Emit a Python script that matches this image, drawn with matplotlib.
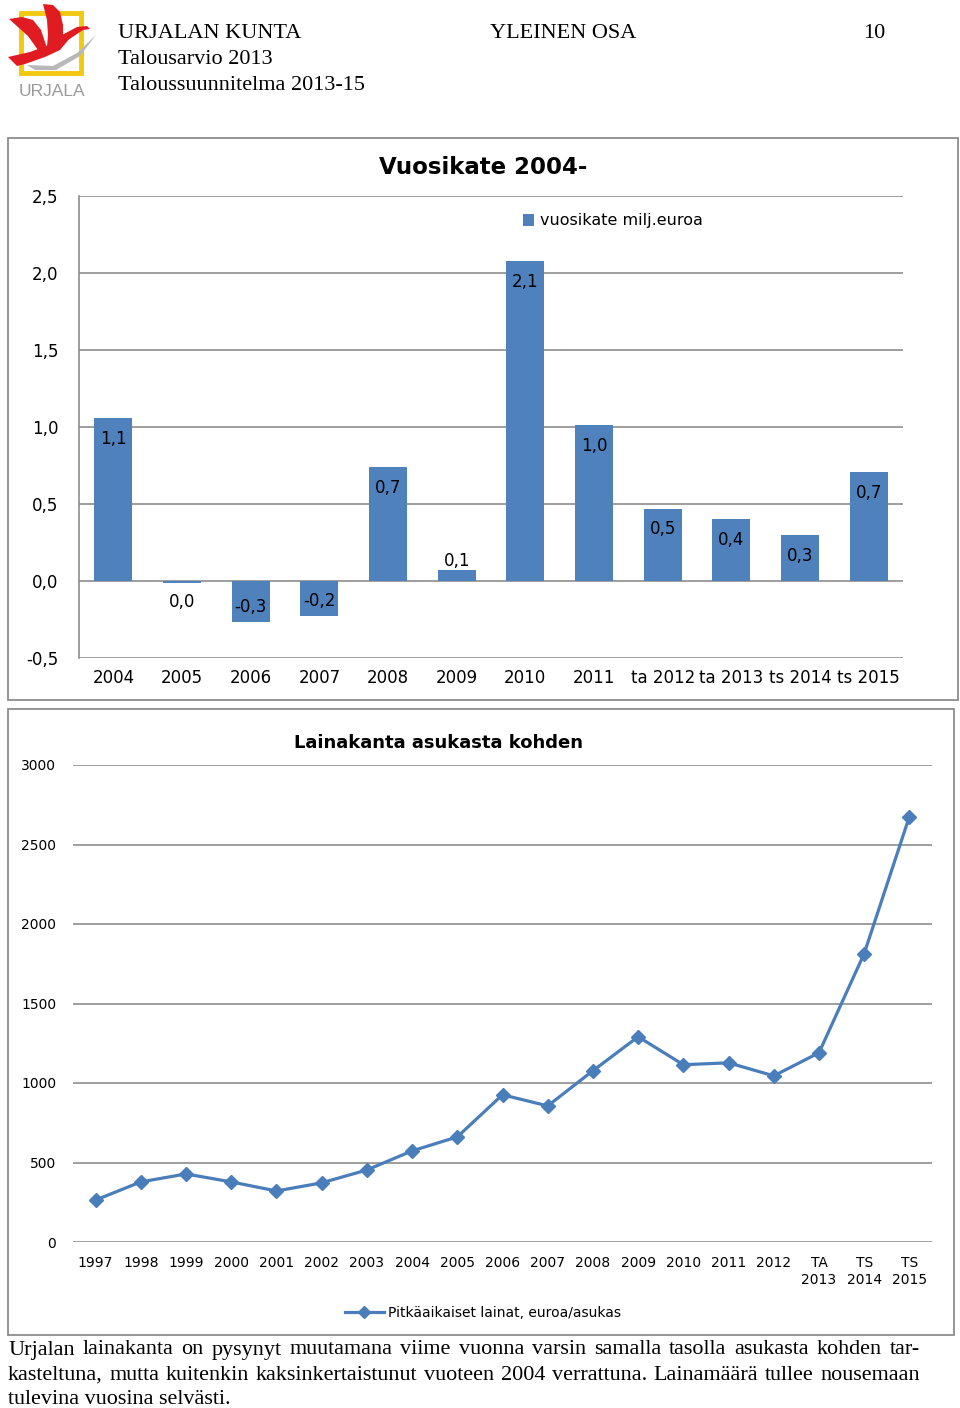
import matplotlib
matplotlib.use("Agg")
import matplotlib.pyplot as plt
from matplotlib.patches import Polygon, Rectangle
from matplotlib.lines import Line2D

# ---------------- data ----------------
bar_categories = ["2004", "2005", "2006", "2007", "2008", "2009", "2010", "2011",
                  "ta 2012", "ta 2013", "ts 2014", "ts 2015"]
bar_values = [1.06, -0.01, -0.265, -0.227, 0.74, 0.07, 2.08, 1.01, 0.47, 0.40, 0.30, 0.705]
bar_series_name = "vuosikate milj.euroa"
bar_title = "Vuosikate 2004-"
bar_yticks = [-0.5, 0.0, 0.5, 1.0, 1.5, 2.0, 2.5]

line_categories = ["1997", "1998", "1999", "2000", "2001", "2002", "2003", "2004", "2005",
                   "2006", "2007", "2008", "2009", "2010", "2011", "2012",
                   "TA\n2013", "TS\n2014", "TS\n2015"]
line_values = [264, 378, 428, 378, 321, 372, 453, 573, 661, 926, 856, 1077, 1291,
               1115, 1127, 1045, 1190, 1814, 2676]
line_series_name = "Pitkäaikaiset lainat, euroa/asukas"
line_title = "Lainakanta asukasta kohden"
line_yticks = [0, 500, 1000, 1500, 2000, 2500, 3000]

header_left = ["URJALAN KUNTA", "Talousarvio 2013", "Taloussuunnitelma 2013-15"]
header_mid = "YLEINEN OSA"
header_page = "10"
body_lines = [
    "Urjalan lainakanta on pysynyt muutamana viime vuonna varsin samalla tasolla asukasta kohden tar-",
    "kasteltuna, mutta kuitenkin kaksinkertaistunut vuoteen 2004 verrattuna. Lainamäärä tullee nousemaan",
    "tulevina vuosina selvästi.",
]

W, H = 960, 1408
BAR_C = "#4F81BD"
LINE_C = "#4A7EBB"
GRID_C = "#8E8E8E"
BOX_C = "#8C8C8C"
SERIF = "Liberation Serif"
SANS = "DejaVu Sans"
RED = "#E11B22"

fig = plt.figure(figsize=(W / 100, H / 100), dpi=100)
fig.patch.set_facecolor("white")

# background axes in pixel coordinates
bg = fig.add_axes([0, 0, 1, 1], zorder=0)
bg.set_xlim(0, W)
bg.set_ylim(H, 0)
bg.axis("off")

# ---- logo ----
bg.add_patch(Rectangle((21, 13), 60, 60, fill=False, edgecolor="#F2C811", lw=3.5))
bg.add_patch(Polygon([(27, 65), (53, 66), (77, 53), (96, 35), (80, 56), (56, 70), (35, 70)],
                     closed=True, facecolor="#B8B8B8", edgecolor="none"))
# left wing
bg.add_patch(Polygon([(9, 19), (22, 17), (33, 20), (41, 30), (46, 45), (45, 52), (38, 50), (28, 36)],
                     closed=True, facecolor=RED, edgecolor="none"))
# right wing
bg.add_patch(Polygon([(43, 4), (53, 5), (60, 12), (63, 25), (63, 37), (55, 45), (47, 47),
                      (48, 35), (47, 20)],
                     closed=True, facecolor=RED, edgecolor="none"))
# neck / head
bg.add_patch(Polygon([(62, 35), (77, 27), (87, 26), (90, 29), (83, 30), (68, 40)],
                     closed=True, facecolor=RED, edgecolor="none"))
# body / tail
bg.add_patch(Polygon([(8, 57), (30, 52), (46, 46), (63, 35), (70, 38), (60, 50), (45, 57),
                      (25, 64), (17, 66)],
                     closed=True, facecolor=RED, edgecolor="none"))
bg.text(52, 92, "URJALA", family="Liberation Sans", fontsize=12.5, color="#9A9A9A",
        ha="center", va="center")

# ---- header ----
for i, s in enumerate(header_left):
    bg.text(118, 33 + i * 26, s, family=SERIF, fontsize=16, ha="left", va="center")
bg.text(490, 33, header_mid, family=SERIF, fontsize=16, ha="left", va="center")
bg.text(885, 33, header_page, family=SERIF, fontsize=16, ha="right", va="center")

# ---- chart boxes ----
bg.add_patch(Rectangle((8, 138), 950, 562, fill=False, edgecolor=BOX_C, lw=1.3))
bg.add_patch(Rectangle((8, 709), 946, 626, fill=False, edgecolor=BOX_C, lw=1.3))

# ---------------- bar chart ----------------
def fpos(x0, y0, x1, y1):
    return [x0 / W, 1 - y1 / H, (x1 - x0) / W, (y1 - y0) / H]

ax1 = fig.add_axes(fpos(79, 196, 903, 658), zorder=2)
ax1.set_facecolor("none")
xs = list(range(len(bar_categories)))
bars = ax1.bar(xs, bar_values, width=0.55, color=BAR_C, zorder=3, label=bar_series_name)
ax1.set_xlim(-0.5, len(bar_categories) - 0.5)
ax1.set_ylim(-0.5, 2.5)
ax1.set_yticks(bar_yticks)
ax1.set_yticklabels([f"{v:.1f}".replace(".", ",") for v in bar_yticks],
                    family=SANS, fontsize=12)
ax1.set_xticks(xs)
ax1.set_xticklabels(bar_categories, family=SANS, fontsize=12)
ax1.tick_params(axis="both", length=0)
ax1.tick_params(axis="y", pad=15)
ax1.tick_params(axis="x", pad=8)
ax1.grid(axis="y", color=GRID_C, lw=1.2, zorder=0)
for s in ["top", "right", "bottom"]:
    ax1.spines[s].set_visible(False)
ax1.spines["left"].set_color(GRID_C)
ax1.spines["left"].set_linewidth(1.2)

for x, v in zip(xs, bar_values):
    lab = f"{round(v, 1) + 0.0:.1f}".replace(".", ",")
    if abs(v) < 0.15:
        if v >= 0:
            off, va = 0, "bottom"
        else:
            off, va = -14, "center"
    else:
        off, va = (-15, "center") if v > 0 else (11, "center")
    ax1.annotate(lab, (x, v), xytext=(0, off), textcoords="offset points",
                 ha="center", va=va, family=SANS, fontsize=12, zorder=5)

ax1.legend(handles=[bars], loc="center", bbox_to_anchor=(613 / W, 1 - 221 / H),
           bbox_transform=fig.transFigure, frameon=False,
           prop={"family": SANS, "size": 11.5}, handlelength=0.7, handleheight=0.7,
           handletextpad=0.4)
fig.text(483 / W, 1 - 168 / H, bar_title, family=SANS, fontsize=16.5,
         fontweight="bold", ha="center", va="center")

# ---------------- line chart ----------------
ax2 = fig.add_axes(fpos(73, 765, 932, 1242), zorder=2)
ax2.set_facecolor("none")
lx = list(range(len(line_categories)))
ax2.plot(lx, line_values, color=LINE_C, lw=2.3, marker="D", markersize=7,
         markerfacecolor=LINE_C, markeredgecolor=LINE_C, zorder=3)
ax2.set_xlim(-0.5, len(line_categories) - 0.5)
ax2.set_ylim(0, 3000)
ax2.set_yticks(line_yticks)
ax2.set_yticklabels([str(v) for v in line_yticks], family=SANS, fontsize=10)
ax2.set_xticks(lx)
ax2.set_xticklabels(line_categories, family=SANS, fontsize=10, linespacing=1.25)
ax2.tick_params(axis="both", length=0)
ax2.tick_params(axis="y", pad=12)
ax2.tick_params(axis="x", pad=10)
ax2.grid(axis="y", color=GRID_C, lw=1.2, zorder=0)
for s in ["top", "right", "bottom", "left"]:
    ax2.spines[s].set_visible(False)
fig.text(438 / W, 1 - 743 / H, line_title, family=SANS, fontsize=13,
         fontweight="bold", ha="center", va="center")
lh = Line2D([], [], color=LINE_C, lw=2.3, marker="D", markersize=6)
ax2.legend(handles=[lh], labels=[line_series_name], loc="center",
           bbox_to_anchor=(483 / W, 1 - 1313 / H), bbox_transform=fig.transFigure,
           frameon=False, prop={"family": SANS, "size": 10}, handlelength=2.8,
           handletextpad=0.3)

# ---------------- body text (justified) ----------------
renderer = fig.canvas.get_renderer()
BODY_FS = 15.9
x_left, x_right = 8, 920
for i, line in enumerate(body_lines):
    y = 1350 + i * 25
    if i == len(body_lines) - 1:
        bg.text(x_left, y, line, family=SERIF, fontsize=BODY_FS, ha="left", va="center")
        continue
    words = line.split()
    texts = [bg.text(0, y, w, family=SERIF, fontsize=BODY_FS, ha="left", va="center")
             for w in words]
    widths = [t.get_window_extent(renderer).width for t in texts]
    gap = (x_right - x_left - sum(widths)) / (len(words) - 1)
    x = x_left
    for t, w in zip(texts, widths):
        t.set_x(x)
        x += w + gap

fig.savefig("out.png", dpi=100, facecolor="white")
